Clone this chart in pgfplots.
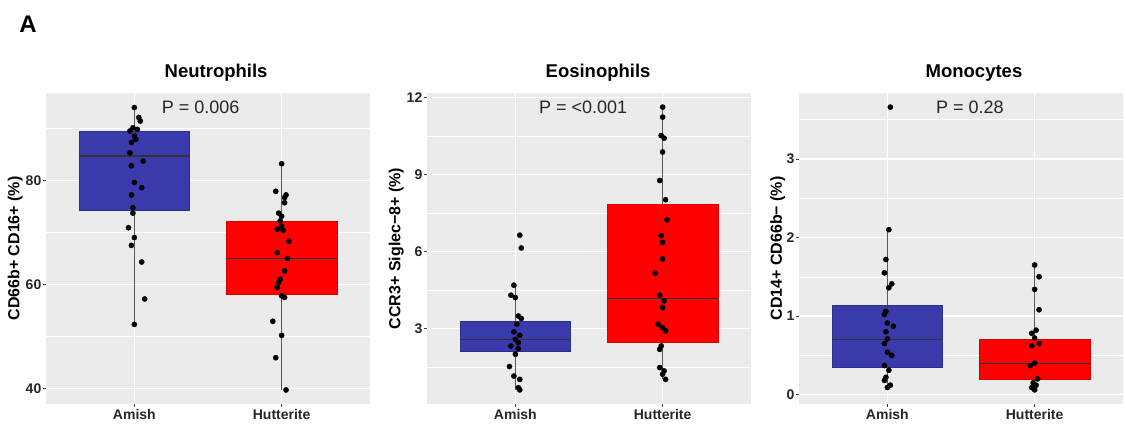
\documentclass[border=0pt]{standalone}
\usepackage{fontspec}
\setmainfont{Liberation Sans}
\usepackage{pgfplots}
\pgfplotsset{compat=1.18}
\usepgfplotslibrary{statistics}
\definecolor{bggray}{RGB}{235,235,235}
\definecolor{amish}{RGB}{58,58,172}
\definecolor{hutt}{RGB}{255,0,0}
\tikzset{ptxt/.style={font=\fontsize{18bp}{20bp}\selectfont, text=black!85}}
\pgfplotsset{
  panel/.style={
    scale only axis, width=324bp, height=311bp, anchor=south west,
    xmin=0.4, xmax=2.6,
    xtick={1,2}, xticklabels={Amish,Hutterite},
    axis x line*=bottom, axis y line*=left,
    axis line style={draw=none},
    axis background/.style={fill=bggray},
    tick align=outside, major tick length=3bp, minor tick length=0bp,
    tick style={black!75, line width=0.5bp},
    xmajorgrids, ymajorgrids, yminorgrids,
    major grid style={white, line width=1.1bp},
    minor grid style={white, line width=0.5bp},
    /pgf/number format/assume math mode=true,
    ticklabel style={font=\fontsize{14bp}{16bp}\selectfont\bfseries, text=black!85},
    yticklabel style={inner sep=1.5bp},
    xticklabel style={inner sep=2bp},
    ylabel style={font=\fontsize{16bp}{18bp}\selectfont\bfseries, at={(axis description cs:-0.095,0.5)}, anchor=center},
    title style={font=\fontsize{18.5bp}{21bp}\selectfont\bfseries, anchor=base},
    clip=false,
  },
  bx/.style={boxplot/draw direction=y, boxplot/box extend=0.75, boxplot/whisker extend=0,
    boxplot/every whisker/.style={draw=black!65, line width=0.5bp}},
  med/.style={black!80, line width=1.2bp, no marks},
  pts/.style={only marks, mark=*, mark size=2.6bp, mark options={fill=black, draw=black}},
}
\begin{document}
\begin{tikzpicture}[x=1bp,y=1bp]
\path[use as bounding box] (0,0) rectangle (1126,423);
\node[anchor=base, font=\fontsize{24bp}{26bp}\selectfont\bfseries] at (28,390) {A};

% Neutrophils
\begin{axis}[panel, at={(46bp,19bp)}, ymin=37.0, ymax=96.8,
  ytick={40,60,80}, minor ytick={50,70,90},
  ylabel={CD66b+ CD16+ (\%)},
  title={Neutrophils}, title style={at={(axis description cs:0.525,1.032)}}]
\addplot[bx, fill=amish, draw=amish!80!black, boxplot prepared={draw position=1,
  lower whisker=52.3, lower quartile=74.2, median=84.7, upper quartile=89.5, upper whisker=94.0}] coordinates {};
\addplot[bx, fill=hutt, draw=hutt!85!black, boxplot prepared={draw position=2,
  lower whisker=39.7, lower quartile=58.2, median=65.0, upper quartile=72.1, upper whisker=83.2}] coordinates {};
\addplot[med] coordinates {(0.625,84.7)(1.375,84.7)};
\addplot[med] coordinates {(1.625,65.0)(2.375,65.0)};
\addplot[pts] coordinates {
(1.00,94.0)(1.03,92.1)(1.04,91.4)(0.99,90.1)(1.02,89.8)(0.97,89.5)(1.00,88.5)(1.01,87.9)(0.98,87.3)
(0.97,85.3)(1.06,83.7)(0.98,82.8)(1.00,79.6)(1.05,78.6)(0.98,77.2)(0.99,74.7)(0.99,73.7)(0.96,70.9)
(1.00,69.0)(0.98,67.5)(1.05,64.3)(1.07,57.2)(1.00,52.3)};
\addplot[pts] coordinates {
(2.00,83.2)(1.96,77.9)(2.03,77.2)(2.02,76.7)(2.02,75.7)(1.98,73.7)(2.00,73.1)(1.99,72.2)(2.00,71.2)
(1.97,70.6)(2.01,70.4)(2.05,68.3)(1.97,66.1)(2.04,65.0)(2.02,62.6)(1.99,61.0)(1.98,60.4)(1.97,59.4)
(2.00,57.8)(2.02,57.5)(1.94,52.9)(2.00,50.2)(1.96,45.9)(2.03,39.7)};
\node[ptxt] at (axis cs:1.45,94.0) {P = 0.006};
\end{axis}

% Eosinophils
\begin{axis}[panel, at={(427bp,19bp)}, ymin=0.06, ymax=12.18,
  ytick={3,6,9,12}, minor ytick={1.5,4.5,7.5,10.5},
  ylabel={CCR3+ Siglec−8+ (\%)},
  title={Eosinophils}, title style={at={(axis description cs:0.528,1.032)}}]
\addplot[bx, fill=amish, draw=amish!80!black, boxplot prepared={draw position=1,
  lower whisker=0.61, lower quartile=2.13, median=2.58, upper quartile=3.30, upper whisker=4.69}] coordinates {};
\addplot[bx, fill=hutt, draw=hutt!85!black, boxplot prepared={draw position=2,
  lower whisker=1.02, lower quartile=2.45, median=4.18, upper quartile=7.83, upper whisker=11.63}] coordinates {};
\addplot[med] coordinates {(0.625,2.58)(1.375,2.58)};
\addplot[med] coordinates {(1.625,4.18)(2.375,4.18)};
\addplot[pts] coordinates {
(1.03,6.64)(1.04,6.14)(0.99,4.69)(0.97,4.30)(1.00,4.21)(1.02,3.49)(1.04,3.39)(1.01,3.17)(0.99,2.87)
(1.03,2.74)(1.00,2.58)(1.02,2.45)(0.97,2.32)(1.02,2.22)(1.00,2.00)(0.96,1.52)(0.99,1.15)(1.03,1.02)
(1.02,0.70)(1.03,0.61)};
\addplot[pts] coordinates {
(2.00,11.63)(2.00,11.24)(1.99,10.52)(2.01,10.42)(2.00,9.88)(1.98,8.77)(2.02,8.02)(2.03,7.24)(1.99,6.62)
(2.00,6.36)(2.00,5.71)(1.95,5.16)(1.98,4.30)(2.01,4.08)(2.00,3.82)(1.97,3.17)(2.00,3.04)(2.02,2.91)
(1.99,2.32)(1.98,2.19)(1.98,1.48)(2.01,1.35)(2.00,1.22)(2.02,1.02)};
\node[ptxt] at (axis cs:1.46,11.63) {P = <0.001};
\end{axis}

% Monocytes
\begin{axis}[panel, at={(799bp,19bp)}, ymin=-0.12, ymax=3.84,
  ytick={0,1,2,3}, minor ytick={0.5,1.5,2.5,3.5},
  ylabel={CD14+ CD66b− (\%)},
  ylabel style={at={(axis description cs:-0.066,0.5)}},
  title={Monocytes}, title style={at={(axis description cs:0.54,1.032)}}]
\addplot[bx, fill=amish, draw=amish!80!black, boxplot prepared={draw position=1,
  lower whisker=0.09, lower quartile=0.35, median=0.70, upper quartile=1.14, upper whisker=2.10}] coordinates {};
\addplot[bx, fill=hutt, draw=hutt!85!black, boxplot prepared={draw position=2,
  lower whisker=0.06, lower quartile=0.20, median=0.40, upper quartile=0.70, upper whisker=1.65}] coordinates {};
\addplot[med] coordinates {(0.625,0.70)(1.375,0.70)};
\addplot[med] coordinates {(1.625,0.40)(2.375,0.40)};
\addplot[pts] coordinates {
(1.02,3.66)(1.01,2.10)(0.99,1.72)(0.98,1.55)(1.03,1.41)(1.01,1.36)(0.99,1.06)(0.98,1.02)(1.00,0.91)
(1.04,0.87)(0.99,0.80)(1.00,0.71)(0.98,0.65)(1.00,0.54)(1.03,0.50)(0.98,0.37)(1.01,0.31)(0.99,0.22)
(0.98,0.18)(1.02,0.12)(1.00,0.09)};
\addplot[pts] coordinates {
(2.00,1.65)(2.03,1.50)(2.00,1.34)(2.03,1.08)(2.01,0.82)(1.98,0.78)(2.00,0.72)(2.03,0.65)(1.98,0.62)
(2.00,0.40)(1.97,0.37)(2.02,0.20)(1.99,0.15)(2.01,0.12)(1.98,0.09)(2.00,0.06)};
\node[ptxt] at (axis cs:1.56,3.66) {P = 0.28};
\end{axis}
\end{tikzpicture}
\end{document}
